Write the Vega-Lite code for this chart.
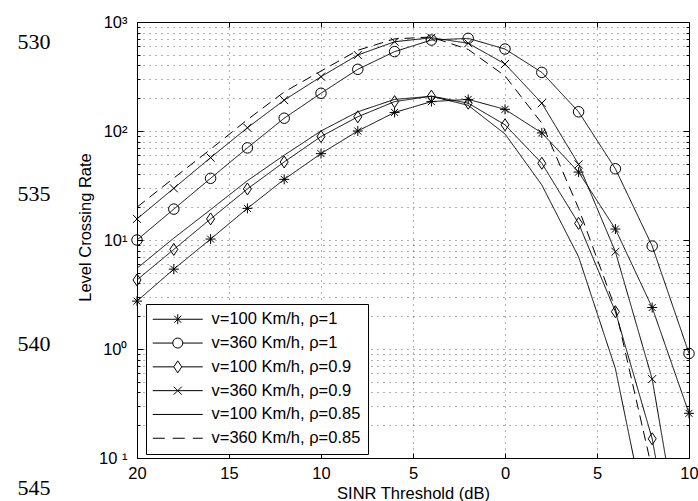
{
  "$schema": "https://vega.github.io/schema/vega-lite/v6.json",
  "width": 552,
  "height": 436,
  "autosize": {"type": "none"},
  "padding": {"left": 137, "top": 22, "right": 9, "bottom": 43},
  "background": "white",
  "datasets": {
    "curves": [
      {"s": "v=100 Km/h, ρ=1", "x": -20, "y": 2.75}, {"s": "v=100 Km/h, ρ=1", "x": -18, "y": 5.4}, {"s": "v=100 Km/h, ρ=1", "x": -16, "y": 10.2}, {"s": "v=100 Km/h, ρ=1", "x": -14, "y": 19.5}, {"s": "v=100 Km/h, ρ=1", "x": -12, "y": 36}, {"s": "v=100 Km/h, ρ=1", "x": -10, "y": 62}, {"s": "v=100 Km/h, ρ=1", "x": -8, "y": 100}, {"s": "v=100 Km/h, ρ=1", "x": -6, "y": 148}, {"s": "v=100 Km/h, ρ=1", "x": -4, "y": 186}, {"s": "v=100 Km/h, ρ=1", "x": -2, "y": 195}, {"s": "v=100 Km/h, ρ=1", "x": 0, "y": 158}, {"s": "v=100 Km/h, ρ=1", "x": 2, "y": 96}, {"s": "v=100 Km/h, ρ=1", "x": 4, "y": 42}, {"s": "v=100 Km/h, ρ=1", "x": 6, "y": 12.6}, {"s": "v=100 Km/h, ρ=1", "x": 8, "y": 2.4}, {"s": "v=100 Km/h, ρ=1", "x": 10, "y": 0.257},
      {"s": "v=360 Km/h, ρ=1", "x": -20, "y": 10}, {"s": "v=360 Km/h, ρ=1", "x": -18, "y": 19.2}, {"s": "v=360 Km/h, ρ=1", "x": -16, "y": 36.8}, {"s": "v=360 Km/h, ρ=1", "x": -14, "y": 70}, {"s": "v=360 Km/h, ρ=1", "x": -12, "y": 131}, {"s": "v=360 Km/h, ρ=1", "x": -10, "y": 222}, {"s": "v=360 Km/h, ρ=1", "x": -8, "y": 368}, {"s": "v=360 Km/h, ρ=1", "x": -6, "y": 535}, {"s": "v=360 Km/h, ρ=1", "x": -4, "y": 683}, {"s": "v=360 Km/h, ρ=1", "x": -2, "y": 708}, {"s": "v=360 Km/h, ρ=1", "x": 0, "y": 565}, {"s": "v=360 Km/h, ρ=1", "x": 2, "y": 345}, {"s": "v=360 Km/h, ρ=1", "x": 4, "y": 150}, {"s": "v=360 Km/h, ρ=1", "x": 6, "y": 45}, {"s": "v=360 Km/h, ρ=1", "x": 8, "y": 8.8}, {"s": "v=360 Km/h, ρ=1", "x": 10, "y": 0.91},
      {"s": "v=100 Km/h, ρ=0.9", "x": -20, "y": 4.3}, {"s": "v=100 Km/h, ρ=0.9", "x": -18, "y": 8.2}, {"s": "v=100 Km/h, ρ=0.9", "x": -16, "y": 15.6}, {"s": "v=100 Km/h, ρ=0.9", "x": -14, "y": 29.4}, {"s": "v=100 Km/h, ρ=0.9", "x": -12, "y": 52}, {"s": "v=100 Km/h, ρ=0.9", "x": -10, "y": 89}, {"s": "v=100 Km/h, ρ=0.9", "x": -8, "y": 135}, {"s": "v=100 Km/h, ρ=0.9", "x": -6, "y": 186}, {"s": "v=100 Km/h, ρ=0.9", "x": -4, "y": 209}, {"s": "v=100 Km/h, ρ=0.9", "x": -2, "y": 180}, {"s": "v=100 Km/h, ρ=0.9", "x": 0, "y": 114}, {"s": "v=100 Km/h, ρ=0.9", "x": 2, "y": 50.6}, {"s": "v=100 Km/h, ρ=0.9", "x": 4, "y": 14.2}, {"s": "v=100 Km/h, ρ=0.9", "x": 6, "y": 2.2}, {"s": "v=100 Km/h, ρ=0.9", "x": 8, "y": 0.15}, {"s": "v=100 Km/h, ρ=0.9", "x": 10, "y": 0.002},
      {"s": "v=360 Km/h, ρ=0.9", "x": -20, "y": 15.6}, {"s": "v=360 Km/h, ρ=0.9", "x": -18, "y": 29.8}, {"s": "v=360 Km/h, ρ=0.9", "x": -16, "y": 57}, {"s": "v=360 Km/h, ρ=0.9", "x": -14, "y": 107}, {"s": "v=360 Km/h, ρ=0.9", "x": -12, "y": 192}, {"s": "v=360 Km/h, ρ=0.9", "x": -10, "y": 315}, {"s": "v=360 Km/h, ρ=0.9", "x": -8, "y": 498}, {"s": "v=360 Km/h, ρ=0.9", "x": -6, "y": 659}, {"s": "v=360 Km/h, ρ=0.9", "x": -4, "y": 717}, {"s": "v=360 Km/h, ρ=0.9", "x": -2, "y": 638}, {"s": "v=360 Km/h, ρ=0.9", "x": 0, "y": 412}, {"s": "v=360 Km/h, ρ=0.9", "x": 2, "y": 180}, {"s": "v=360 Km/h, ρ=0.9", "x": 4, "y": 49.4}, {"s": "v=360 Km/h, ρ=0.9", "x": 6, "y": 7.8}, {"s": "v=360 Km/h, ρ=0.9", "x": 8, "y": 0.53}, {"s": "v=360 Km/h, ρ=0.9", "x": 10, "y": 0.0056},
      {"s": "v=100 Km/h, ρ=0.85", "x": -20, "y": 5.5}, {"s": "v=100 Km/h, ρ=0.85", "x": -18, "y": 10.4}, {"s": "v=100 Km/h, ρ=0.85", "x": -16, "y": 19}, {"s": "v=100 Km/h, ρ=0.85", "x": -14, "y": 35}, {"s": "v=100 Km/h, ρ=0.85", "x": -12, "y": 60}, {"s": "v=100 Km/h, ρ=0.85", "x": -10, "y": 100}, {"s": "v=100 Km/h, ρ=0.85", "x": -8, "y": 150}, {"s": "v=100 Km/h, ρ=0.85", "x": -6, "y": 195}, {"s": "v=100 Km/h, ρ=0.85", "x": -4, "y": 208}, {"s": "v=100 Km/h, ρ=0.85", "x": -2, "y": 172}, {"s": "v=100 Km/h, ρ=0.85", "x": 0, "y": 94}, {"s": "v=100 Km/h, ρ=0.85", "x": 2, "y": 32}, {"s": "v=100 Km/h, ρ=0.85", "x": 4, "y": 7.0}, {"s": "v=100 Km/h, ρ=0.85", "x": 6, "y": 0.66}, {"s": "v=100 Km/h, ρ=0.85", "x": 8, "y": 0.015}, {"s": "v=100 Km/h, ρ=0.85", "x": 10, "y": 0.0003},
      {"s": "v=360 Km/h, ρ=0.85", "x": -20, "y": 20}, {"s": "v=360 Km/h, ρ=0.85", "x": -18, "y": 37}, {"s": "v=360 Km/h, ρ=0.85", "x": -16, "y": 68}, {"s": "v=360 Km/h, ρ=0.85", "x": -14, "y": 127}, {"s": "v=360 Km/h, ρ=0.85", "x": -12, "y": 228}, {"s": "v=360 Km/h, ρ=0.85", "x": -10, "y": 355}, {"s": "v=360 Km/h, ρ=0.85", "x": -8, "y": 550}, {"s": "v=360 Km/h, ρ=0.85", "x": -6, "y": 700}, {"s": "v=360 Km/h, ρ=0.85", "x": -4, "y": 728}, {"s": "v=360 Km/h, ρ=0.85", "x": -2, "y": 560}, {"s": "v=360 Km/h, ρ=0.85", "x": 0, "y": 320}, {"s": "v=360 Km/h, ρ=0.85", "x": 2, "y": 118}, {"s": "v=360 Km/h, ρ=0.85", "x": 4, "y": 19.5}, {"s": "v=360 Km/h, ρ=0.85", "x": 6, "y": 2.35}, {"s": "v=360 Km/h, ρ=0.85", "x": 8, "y": 0.078}, {"s": "v=360 Km/h, ρ=0.85", "x": 10, "y": 0.001}
    ],
    "linenos": [{"ln": 530}, {"ln": 535}, {"ln": 540}, {"ln": 545}]
  },
  "layer": [
    {
      "data": {"name": "curves"},
      "mark": {"type": "line", "clip": true, "color": "black", "strokeWidth": 1},
      "encoding": {
        "x": {"field": "x", "type": "quantitative",
          "scale": {"domain": [-20, 10], "nice": false, "zero": false},
          "axis": {"orient": "bottom", "values": [-20, -15, -10, -5, 0, 5, 10], "labelExpr": "'' + abs(datum.value)", "title": "SINR Threshold (dB)", "grid": true, "tickSize": -5, "labelPadding": 12, "labelFlush": false, "titlePadding": 4}},
        "y": {"field": "y", "type": "quantitative",
          "scale": {"type": "log", "domain": [0.1, 1000], "nice": false},
          "axis": {"orient": "left", "values": [0.1, 0.2, 0.3, 0.4, 0.5, 0.6, 0.7, 0.8, 0.9, 1, 2, 3, 4, 5, 6, 7, 8, 9, 10, 20, 30, 40, 50, 60, 70, 80, 90, 100, 200, 300, 400, 500, 600, 700, 800, 900, 1000],
            "labelExpr": "datum.value == 1000 ? '10³' : datum.value == 100 ? '10²' : datum.value == 10 ? '10¹' : datum.value == 1 ? '10⁰' : datum.value == 0.1 ? '10 ¹' : ''",
            "title": "Level Crossing Rate", "grid": true,
            "tickSize": {"condition": {"test": "indexof([0.1, 1, 10, 100, 1000], datum.value) >= 0", "value": -6}, "value": -3},
            "labelPadding": 16, "labelFlush": false, "labelOverlap": false, "titlePadding": 5, "titleY": 205}},
        "detail": {"field": "s", "type": "nominal"},
        "strokeDash": {"condition": {"test": "datum.s == 'v=360 Km/h, ρ=0.85'", "value": [10, 6]}, "value": [1, 0]}
      }
    },
    {
      "data": {"name": "curves"},
      "transform": [{"filter": "datum.y >= 0.1"}],
      "mark": {"type": "point", "filled": false, "stroke": "black", "strokeWidth": 1, "size": 100, "opacity": 1},
      "encoding": {
        "x": {"field": "x", "type": "quantitative",
          "scale": {"domain": [-20, 10], "nice": false, "zero": false},
          "axis": {"orient": "top", "values": [-20, -15, -10, -5, 0, 5, 10], "labels": false, "title": null, "grid": false, "tickSize": -5}},
        "y": {"field": "y", "type": "quantitative",
          "scale": {"type": "log", "domain": [0.1, 1000], "nice": false},
          "axis": {"orient": "right", "values": [0.1, 0.2, 0.3, 0.4, 0.5, 0.6, 0.7, 0.8, 0.9, 1, 2, 3, 4, 5, 6, 7, 8, 9, 10, 20, 30, 40, 50, 60, 70, 80, 90, 100, 200, 300, 400, 500, 600, 700, 800, 900, 1000],
            "labels": false, "title": null, "grid": false,
            "tickSize": {"condition": {"test": "indexof([0.1, 1, 10, 100, 1000], datum.value) >= 0", "value": -6}, "value": -3}}},
        "shape": {"field": "s", "type": "nominal",
          "scale": {"domain": ["v=100 Km/h, ρ=1", "v=360 Km/h, ρ=1", "v=100 Km/h, ρ=0.9", "v=360 Km/h, ρ=0.9", "v=100 Km/h, ρ=0.85", "v=360 Km/h, ρ=0.85"],
            "range": ["M0,-1V1M-1,0H1M-0.7,-0.7L0.7,0.7M-0.7,0.7L0.7,-0.7", "M-1.05,0A1.05,1.05,0,1,1,1.05,0A1.05,1.05,0,1,1,-1.05,0Z", "M0,-1.2L0.8,0L0,1.2L-0.8,0Z", "M-0.8,-0.8L0.8,0.8M-0.8,0.8L0.8,-0.8", "M0,0", "M0,0"]},
          "legend": null}
      }
    },
    {
      "data": {"name": "curves"},
      "mark": {"type": "point", "filled": false, "stroke": "black", "strokeWidth": 1, "opacity": 0},
      "encoding": {
        "shape": {"field": "s", "type": "nominal",
          "scale": {"domain": ["v=100 Km/h, ρ=1", "v=360 Km/h, ρ=1", "v=100 Km/h, ρ=0.9", "v=360 Km/h, ρ=0.9", "v=100 Km/h, ρ=0.85", "v=360 Km/h, ρ=0.85"],
            "range": ["M-1.7,0H8.3M3.3,-1V1M2.6,-0.7L4,0.7M2.6,0.7L4,-0.7", "M-1.7,0H2.3M2.3,0A1,1,0,1,1,4.3,0A1,1,0,1,1,2.3,0M4.3,0H8.3", "M-1.7,0H2.5M3.3,-1.2L4.1,0L3.3,1.2L2.5,0ZM4.1,0H8.3", "M-1.7,0H8.3M2.5,-0.8L4.1,0.8M2.5,0.8L4.1,-0.8", "M-1.7,0H8.3", "M-1.7,0H0.7M2.3,0H4.7M6.3,0H8.3"]},
          "legend": {"title": null, "orient": "none", "legendX": 9, "legendY": 282, "fillColor": "white", "strokeColor": "black", "padding": 7, "rowPadding": 6.8, "labelFont": "Liberation Sans", "labelFontSize": 16.5, "labelColor": "black", "labelOffset": 42, "labelLimit": 0, "symbolSize": 100, "symbolStrokeWidth": 1, "symbolStrokeColor": "black", "symbolFillColor": "transparent", "symbolOpacity": 1}}
      }
    },
    {
      "data": {"name": "linenos"},
      "mark": {"type": "point", "opacity": 0},
      "encoding": {
        "y": {"field": "ln", "type": "quantitative",
          "scale": {"domain": [530, 535, 540, 545], "range": [19, 171, 321, 465], "zero": false, "nice": false},
          "axis": {"orient": "left", "values": [530, 535, 540, 545], "offset": 87, "ticks": false, "domain": false, "grid": false, "labelPadding": 0, "title": null, "labelFont": "Liberation Serif", "labelFontSize": 22, "labelFlush": false, "labelOverlap": false}}
      }
    }
  ],
  "resolve": {"scale": {"y": "independent", "shape": "independent"}, "axis": {"x": "independent", "y": "independent"}},
  "config": {
    "font": "Liberation Sans",
    "view": {"stroke": "black", "strokeWidth": 1},
    "axis": {"labelFont": "Liberation Sans", "labelFontSize": 16.5, "labelColor": "black", "titleFont": "Liberation Sans", "titleFontSize": 16.5, "titleFontWeight": "normal", "titleColor": "black", "domain": false, "tickColor": "black", "gridColor": "black", "gridDash": [1, 5], "gridWidth": 1, "gridOpacity": 0.6}
  }
}
